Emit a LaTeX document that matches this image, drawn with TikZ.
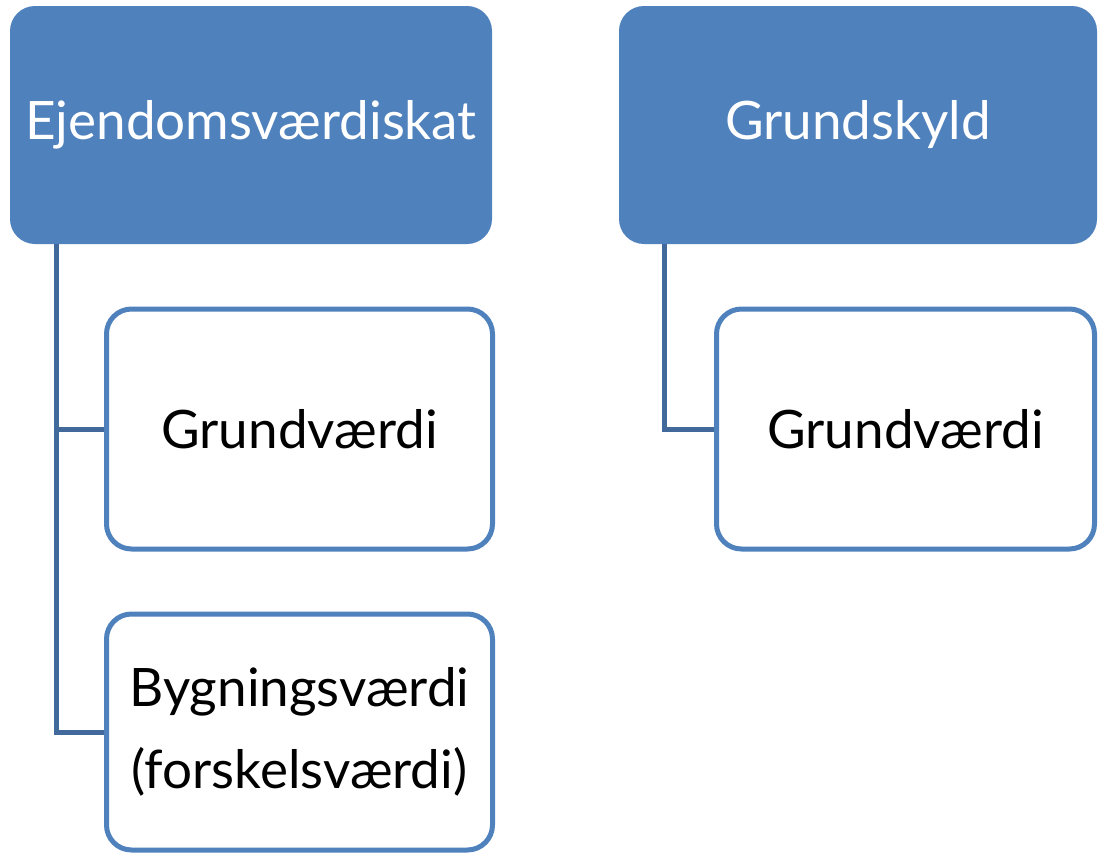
\documentclass[tikz,border=0pt]{standalone}
\usepackage{fontspec}
\setmainfont{Lato}
\definecolor{boxblue}{HTML}{4F81BD}
\definecolor{linkblue}{HTML}{41699B}
\tikzset{
  head/.style={rectangle, rounded corners=25pt, fill=boxblue, text=white,
    minimum width=#1, minimum height=238pt, inner sep=0pt},
  leaf/.style={rectangle, rounded corners=25pt, draw=boxblue, line width=5pt, fill=white,
    text=black, minimum width=#1, minimum height=240pt, inner sep=0pt, align=center},
  link/.style={draw=linkblue, line width=5pt}
}
\begin{document}
\begin{tikzpicture}[x=1pt, y=-1pt, font=\fontsize{53}{82}\selectfont]
\useasboundingbox (0,0) rectangle (1098,854);
\node[head=482pt] (ejd) at (251,125) {Ejendomsværdiskat};
\node[head=478pt] (grs) at (858,125) {Grundskyld};
\node[leaf=386pt] (gv1) at (299.5,429) {Grundværdi};
\node[leaf=386pt, minimum height=236pt] (bv) at (299.5,732) {Bygningsværdi\\(forskelsværdi)};
\node[leaf=378pt] (gv2) at (905.5,429) {Grundværdi};
\draw[link] ([xshift=47pt]ejd.south west) |- (gv1.west);
\draw[link] ([xshift=47pt]ejd.south west) |- (bv.west);
\draw[link] ([xshift=46pt]grs.south west) |- (gv2.west);
\end{tikzpicture}
\end{document}
